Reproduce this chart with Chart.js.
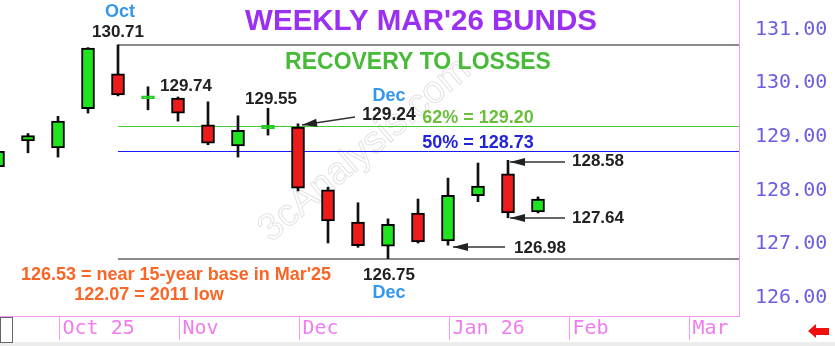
<!DOCTYPE html>
<html>
<head>
<meta charset="utf-8">
<script src="https://cdn.jsdelivr.net/npm/chart.js@4.4.1/dist/chart.umd.min.js"></script>
<style>
  html, body { margin: 0; padding: 0; background: #fff; }
</style>
</head>
<body>
<canvas id="chart" width="835" height="346"></canvas>
<script>
// weekly candles, index 0 = first week visible (late Sep)
const weeks  = [0, 1, 2, 3, 4, 5, 6, 7, 8, 9, 10, 11, 12, 13, 14, 15, 16, 17, 18];
const opens  = [128.44, 128.92, 128.79, 129.52, 130.17, 129.71, 129.72, 129.22, 128.83, 129.15, 129.18, 128.01, 127.41, 126.96, 127.58, 127.06, 127.90, 128.31, 127.60];
const highs  = [128.76, 129.06, 129.38, 130.66, 130.71, 129.93, 129.74, 129.65, 129.39, 129.53, 129.24, 128.06, 127.77, 127.47, 127.84, 128.23, 128.51, 128.56, 127.88];
const lows   = [128.40, 128.70, 128.62, 129.44, 129.76, 129.50, 129.29, 128.85, 128.62, 129.03, 127.99, 127.02, 126.94, 126.73, 127.02, 126.98, 127.79, 127.49, 127.58];
const closes = [128.73, 129.02, 129.29, 130.65, 129.78, 129.76, 129.44, 128.88, 129.12, 129.21, 128.04, 127.43, 126.97, 127.37, 127.04, 127.91, 128.08, 127.58, 127.84];

const yTicks = [126, 127, 128, 129, 130, 131];
const monthAt = [2, 6, 10, 15, 19, 23];
const monthLabels = ['Oct 25', 'Nov', 'Dec', 'Jan 26', 'Feb', 'Mar'];

const highLevel = 130.71;
const lowLevel = 126.73;
const fib62 = 129.20;
const fib50 = 128.73;
const levelFrom = 4;

const UP = '#1fe51f', DOWN = '#ee1b1b';
const isDoji = (i) => Math.abs(closes[i] - opens[i]) < 0.1;

const bodies = weeks.map(i => ({ x: i, y: [opens[i], closes[i]] }));
const wicks = weeks.map(i => ({ x: i, y: [lows[i], highs[i]] }));
const fills = weeks.map(i => closes[i] >= opens[i] ? UP : DOWN);
const borders = weeks.map(i => isDoji(i) ? '#22cc22' : '#000');

function arrow(ctx, x1, y1, x2, y2) {
  ctx.strokeStyle = '#333';
  ctx.lineWidth = 1.5;
  ctx.beginPath();
  ctx.moveTo(x1, y1);
  ctx.lineTo(x2, y2);
  ctx.stroke();
  const ang = Math.atan2(y2 - y1, x2 - x1);
  const len = 15, w = 4;
  ctx.fillStyle = '#222';
  ctx.beginPath();
  ctx.moveTo(x2, y2);
  ctx.lineTo(x2 - len * Math.cos(ang) + w * Math.sin(ang), y2 - len * Math.sin(ang) - w * Math.cos(ang));
  ctx.lineTo(x2 - len * Math.cos(ang) - w * Math.sin(ang), y2 - len * Math.sin(ang) + w * Math.cos(ang));
  ctx.closePath();
  ctx.fill();
}

function label(ctx, text, x, y, color, font) {
  ctx.fillStyle = color;
  ctx.font = font;
  ctx.textAlign = 'center';
  ctx.textBaseline = 'middle';
  ctx.fillText(text, x, y);
}

const overlay = {
  id: 'overlay',
  beforeDatasetsDraw(chart) {
    const { ctx, chartArea: a, scales: { x, y } } = chart;
    ctx.save();
    // watermark
    ctx.translate(365, 150);
    ctx.rotate(-0.7);
    ctx.font = '38px "Liberation Sans", Arial, sans-serif';
    ctx.textAlign = 'center';
    ctx.textBaseline = 'middle';
    ctx.strokeStyle = '#e3e3e3';
    ctx.lineWidth = 1;
    ctx.strokeText('3cAnalysis.com', 0, 0);
    ctx.restore();

    ctx.save();
    const x0 = x.getPixelForValue(levelFrom);
    const hline = (v, color, w) => {
      const py = Math.round(y.getPixelForValue(v)) + (w % 2 ? 0.5 : 0);
      ctx.strokeStyle = color;
      ctx.lineWidth = w;
      ctx.beginPath();
      ctx.moveTo(x0, py);
      ctx.lineTo(a.right, py);
      ctx.stroke();
    };
    hline(highLevel, '#8a8a8a', 2);
    hline(lowLevel, '#8a8a8a', 2);
    hline(fib62, '#44cc33', 1);
    hline(fib50, '#1a1aff', 1);
    ctx.restore();
  },
  afterDraw(chart) {
    const { ctx, chartArea: a, scales: { x } } = chart;
    ctx.save();
    // x axis frame + month labels
    ctx.strokeStyle = '#f49af4';
    ctx.lineWidth = 1;
    ctx.beginPath();
    ctx.moveTo(0, a.bottom + 0.5);
    ctx.lineTo(a.right, a.bottom + 0.5);
    ctx.stroke();
    ctx.font = '20px "DejaVu Sans Mono", monospace';
    ctx.textAlign = 'left';
    ctx.textBaseline = 'middle';
    monthAt.forEach((m, k) => {
      const px = Math.round(x.getPixelForValue(m)) + 1.5;
      ctx.strokeStyle = '#f49af4';
      ctx.beginPath();
      ctx.moveTo(px, a.bottom);
      ctx.lineTo(px, a.bottom + 24);
      ctx.stroke();
      ctx.fillStyle = '#f07cf0';
      ctx.fillText(monthLabels[k], px + 3, a.bottom + 13);
    });
    // bottom strip, corner box, red arrow
    ctx.fillStyle = '#ececec';
    ctx.fillRect(0, 342, 835, 4);
    ctx.strokeStyle = '#666';
    ctx.strokeRect(0.5, a.bottom + 1.5, 12, 25);
    ctx.fillStyle = '#f01010';
    ctx.beginPath();
    ctx.moveTo(808, 331);
    ctx.lineTo(816, 324);
    ctx.lineTo(816, 328);
    ctx.lineTo(829, 328);
    ctx.lineTo(829, 335);
    ctx.lineTo(816, 335);
    ctx.lineTo(816, 338);
    ctx.closePath();
    ctx.fill();

    // titles
    const bold = (s) => 'bold ' + s + 'px "Liberation Sans", Arial, sans-serif';
    label(ctx, "WEEKLY MAR'26 BUNDS", 421, 22, '#9b2ff2', bold(29.5));
    label(ctx, 'RECOVERY TO LOSSES', 418, 63, '#47bb38', bold(23));

    // annotations
    label(ctx, 'Oct', 120, 12, '#3497ee', bold(18));
    label(ctx, '130.71', 118, 32, '#222', bold(17));
    label(ctx, '129.74', 186, 86, '#222', bold(17));
    label(ctx, '129.55', 271, 99, '#222', bold(17));
    label(ctx, 'Dec', 389, 96, '#3497ee', bold(18));
    label(ctx, '129.24', 389, 115, '#222', bold(17.5));
    label(ctx, '62% = 129.20', 478, 118, '#6cbf3a', bold(18));
    label(ctx, '50% = 128.73', 478, 143, '#2323dd', bold(18));
    label(ctx, '128.58', 598, 161, '#222', bold(17));
    label(ctx, '127.64', 598, 218, '#222', bold(17));
    label(ctx, '126.98', 540, 248, '#222', bold(17));
    label(ctx, '126.75', 389, 275, '#222', bold(17));
    label(ctx, 'Dec', 389, 293, '#3497ee', bold(18));
    label(ctx, "126.53 = near 15-year base in Mar'25", 176, 275, '#fb6526', bold(18));
    label(ctx, '122.07 = 2011 low', 149, 295, '#fb6526', bold(18));

    arrow(ctx, 355, 117, 302, 125);
    arrow(ctx, 565, 162, 510, 162);
    arrow(ctx, 565, 218, 510, 218);
    arrow(ctx, 505, 247, 453, 247);
    ctx.restore();
  }
};

new Chart(document.getElementById('chart'), {
  type: 'bar',
  data: {
    datasets: [
      {
        data: bodies,
        backgroundColor: fills,
        borderColor: borders,
        borderWidth: 2,
        borderSkipped: false,
        barThickness: 13,
        grouped: false
      },
      {
        data: wicks,
        backgroundColor: '#111',
        borderWidth: 0,
        barThickness: 2,
        grouped: false
      }
    ]
  },
  options: {
    responsive: false,
    animation: false,
    layout: { padding: { left: 0, top: 0, right: 0, bottom: 30 } },
    plugins: { legend: { display: false }, tooltip: { enabled: false } },
    scales: {
      x: {
        type: 'linear',
        display: false,
        offset: false,
        min: 2 / 30,
        max: 741 / 30
      },
      y: {
        position: 'right',
        min: 125.661,
        max: 131.546,
        afterFit: (s) => { s.width = 96; s.paddingTop = 0; s.paddingBottom = 0; },
        afterBuildTicks: (s) => { s.ticks = yTicks.map(v => ({ value: v })); },
        grid: { display: false, drawTicks: false },
        border: { display: true, color: '#f49af4', width: 1 },
        ticks: {
          padding: 16,
          color: '#6a5fe0',
          font: { family: '"DejaVu Sans Mono", monospace', size: 20 },
          callback: (v) => Number(v).toFixed(2)
        }
      }
    }
  },
  plugins: [overlay]
});
</script>
</body>
</html>
